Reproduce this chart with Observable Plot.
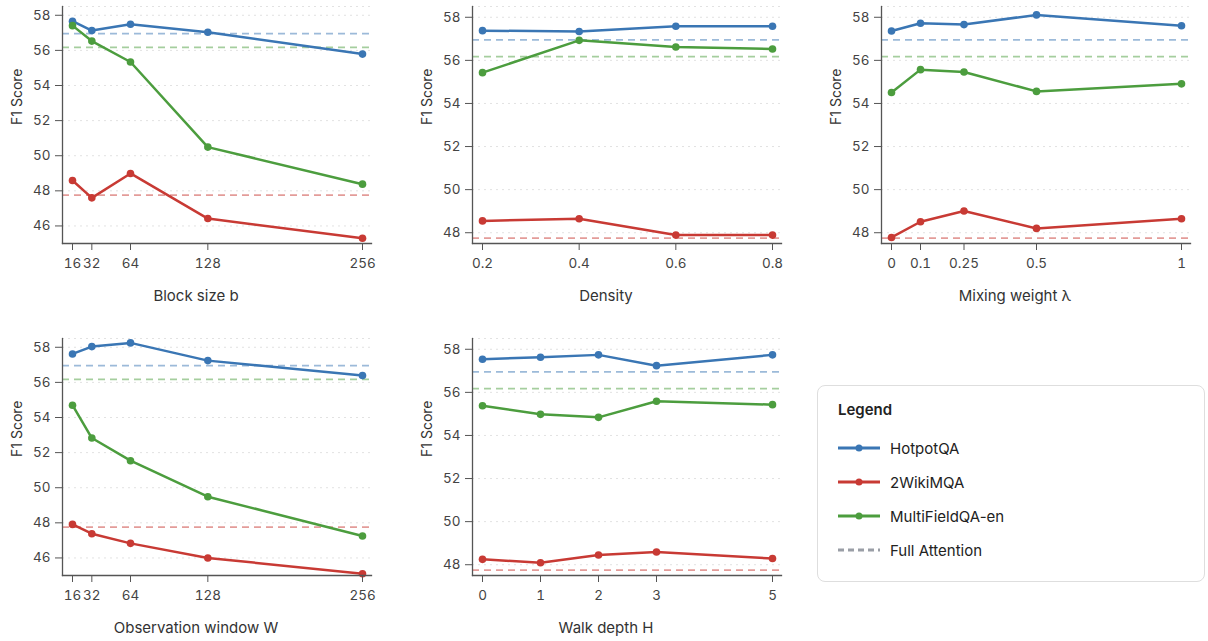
<!DOCTYPE html>
<html>
<head>
<meta charset="utf-8">
<script src="https://cdn.jsdelivr.net/npm/d3@7"></script>
<script src="https://cdn.jsdelivr.net/npm/@observablehq/plot@0.6"></script>
<style>
  html, body { margin: 0; padding: 0; background: #fff; overflow: hidden; }
  body { width: 1208px; height: 641px; position: relative; font-family: Inter, "Noto Sans", sans-serif; }
  .panel { position: absolute; width: 410px; height: 320px; }
  .panel svg { max-width: none !important; }
  .legend { position: absolute; left: 817px; top: 385px; width: 388px; height: 197px; border: 1px solid #dedede; border-radius: 8px; box-sizing: border-box; background: #fff; }
  .legend .title { position: absolute; left: 20px; top: 14px; font-size: 15px; font-weight: 600; color: #222; }
  .legend .item { position: absolute; left: 20px; height: 20px; display: flex; align-items: center; font-size: 15px; color: #222; }
  .legend .item svg { margin-right: 10px; }
</style>
</head>
<body>
<div id="root"></div>
<script>
// ---- data ----
const seriesNames = ["HotpotQA", "2WikiMQA", "MultiFieldQA-en"];
const seriesColors = ["#3a76b4", "#c83a34", "#4c9d3e"];
const fullAttention = [56.95, 47.75, 56.17]; // HotpotQA, 2WikiMQA, MultiFieldQA-en

const blockSize = [16, 32, 64, 128, 256];
const blockHotpot = [57.66, 57.13, 57.49, 57.03, 55.79];
const block2Wiki = [48.59, 47.60, 48.99, 46.42, 45.30];
const blockMFQA = [57.41, 56.53, 55.34, 50.49, 48.38];

const density = [0.2, 0.4, 0.6, 0.8];
const densHotpot = [57.38, 57.34, 57.58, 57.58];
const dens2Wiki = [48.55, 48.65, 47.89, 47.89];
const densMFQA = [55.43, 56.93, 56.62, 56.53];

const mixing = [0, 0.1, 0.25, 0.5, 1];
const mixHotpot = [57.36, 57.72, 57.66, 58.11, 57.61];
const mix2Wiki = [47.78, 48.51, 49.01, 48.20, 48.65];
const mixMFQA = [54.51, 55.57, 55.46, 54.56, 54.91];

const obsWindow = [16, 32, 64, 128, 256];
const winHotpot = [57.62, 58.04, 58.25, 57.24, 56.39];
const win2Wiki = [47.91, 47.38, 46.83, 46.00, 45.10];
const winMFQA = [54.70, 52.83, 51.54, 49.49, 47.25];

const walkDepth = [0, 1, 2, 3, 5];
const depthHotpot = [57.54, 57.63, 57.74, 57.24, 57.74];
const depth2Wiki = [48.25, 48.09, 48.45, 48.59, 48.29];
const depthMFQA = [55.38, 54.98, 54.84, 55.59, 55.43];

const xTickLabels = {
  block: ["16", "32", "64", "128", "256"],
  density: ["0.2", "0.4", "0.6", "0.8"],
  mixing: ["0", "0.1", "0.25", "0.5", "1"],
  window: ["16", "32", "64", "128", "256"],
  depth: ["0", "1", "2", "3", "5"]
};

const panels = [
  {key: "block", label: "Block size b", x: blockSize, ys: [blockHotpot, block2Wiki, blockMFQA], yDomain: [45, 58.5], yTicks: [46, 48, 50, 52, 54, 56, 58], left: 0, top: 0},
  {key: "density", label: "Density", x: density, ys: [densHotpot, dens2Wiki, densMFQA], yDomain: [47.5, 58.5], yTicks: [48, 50, 52, 54, 56, 58], left: 409.5, top: 0},
  {key: "mixing", label: "Mixing weight λ", x: mixing, ys: [mixHotpot, mix2Wiki, mixMFQA], yDomain: [47.5, 58.5], yTicks: [48, 50, 52, 54, 56, 58], left: 819, top: 0},
  {key: "window", label: "Observation window W", x: obsWindow, ys: [winHotpot, win2Wiki, winMFQA], yDomain: [45, 58.5], yTicks: [46, 48, 50, 52, 54, 56, 58], left: 0, top: 332},
  {key: "depth", label: "Walk depth H", x: walkDepth, ys: [depthHotpot, depth2Wiki, depthMFQA], yDomain: [47.5, 58.5], yTicks: [48, 50, 52, 54, 56, 58], left: 409.5, top: 332}
];

const root = document.getElementById("root");
const font = "Inter, 'Noto Sans', sans-serif";

for (const p of panels) {
  const rows = [];
  p.ys.forEach((vals, si) => vals.forEach((v, i) => rows.push({x: p.x[i], y: v, s: seriesNames[si]})));
  const base = fullAttention.map((v, i) => ({y: v, s: seriesNames[i]}));
  const labelMap = new Map(p.x.map((v, i) => [v, xTickLabels[p.key][i]]));
  const xd = d3.extent(p.x);

  const chart = Plot.plot({
    width: 410,
    height: 320,
    marginLeft: 62,
    marginRight: 39,
    marginTop: 6,
    marginBottom: 77,
    style: {fontFamily: font, background: "transparent", overflow: "visible", maxWidth: "none"},
    x: {domain: xd, insetLeft: 10, insetRight: 9},
    y: {domain: p.yDomain},
    color: {domain: seriesNames, range: seriesColors},
    marks: [
      Plot.gridY([...p.yTicks, p.yDomain[1]], {stroke: "#e2e2e2", strokeOpacity: 1, strokeDasharray: "2,4", strokeWidth: 1}),
      Plot.ruleY(base, {y: "y", stroke: "s", strokeOpacity: 0.5, strokeWidth: 1.7, strokeDasharray: "7,5"}),
      Plot.line(rows, {x: "x", y: "y", z: "s", stroke: "s", strokeWidth: 2.5}),
      Plot.dot(rows, {x: "x", y: "y", fill: "s", r: 3.8, stroke: "none"}),
      Plot.axisX({ticks: p.x, tickFormat: (d) => labelMap.get(d), tickSize: 7, tickPadding: 8, fontSize: 13.5, label: null, stroke: "#555", fill: "#444"}),
      Plot.axisY({ticks: p.yTicks, tickFormat: (d) => String(d), tickSize: 7, tickPadding: 5, fontSize: 13.5, label: null, stroke: "#555", fill: "#444"}),
      Plot.frame({anchor: "bottom", stroke: "#555", strokeWidth: 1.3}),
      Plot.frame({anchor: "left", stroke: "#555", strokeWidth: 1.3}),
      Plot.text(["F1 Score"], {frameAnchor: "left", dx: -45, rotate: -90, fontSize: 14, fill: "#333"}),
      Plot.text([p.label], {frameAnchor: "bottom", dx: -21, dy: 57, fontSize: 15, fill: "#333"})
    ]
  });
  const div = document.createElement("div");
  div.className = "panel";
  div.style.left = p.left + "px";
  div.style.top = p.top + "px";
  div.appendChild(chart);
  root.appendChild(div);
}

// ---- legend ----
const legend = document.createElement("div");
legend.className = "legend";
legend.innerHTML = `<div class="title">Legend</div>`;
const legendItems = [...seriesNames.map((n, i) => ({name: n, color: seriesColors[i], dashed: false})), {name: "Full Attention", color: "#9a9ea6", dashed: true}];
legendItems.forEach((it, i) => {
  const el = document.createElement("div");
  el.className = "item";
  el.style.top = (52 + i * 34) + "px";
  const sample = it.dashed
    ? `<line x1="0" x2="42" y1="10" y2="10" stroke="${it.color}" stroke-width="3" stroke-dasharray="6,4"/>`
    : `<line x1="0" x2="42" y1="10" y2="10" stroke="${it.color}" stroke-width="3"/><circle cx="21" cy="10" r="3.5" fill="${it.color}"/>`;
  el.innerHTML = `<svg width="42" height="20">${sample}</svg><span>${it.name}</span>`;
  legend.appendChild(el);
});
root.appendChild(legend);
</script>
</body>
</html>
